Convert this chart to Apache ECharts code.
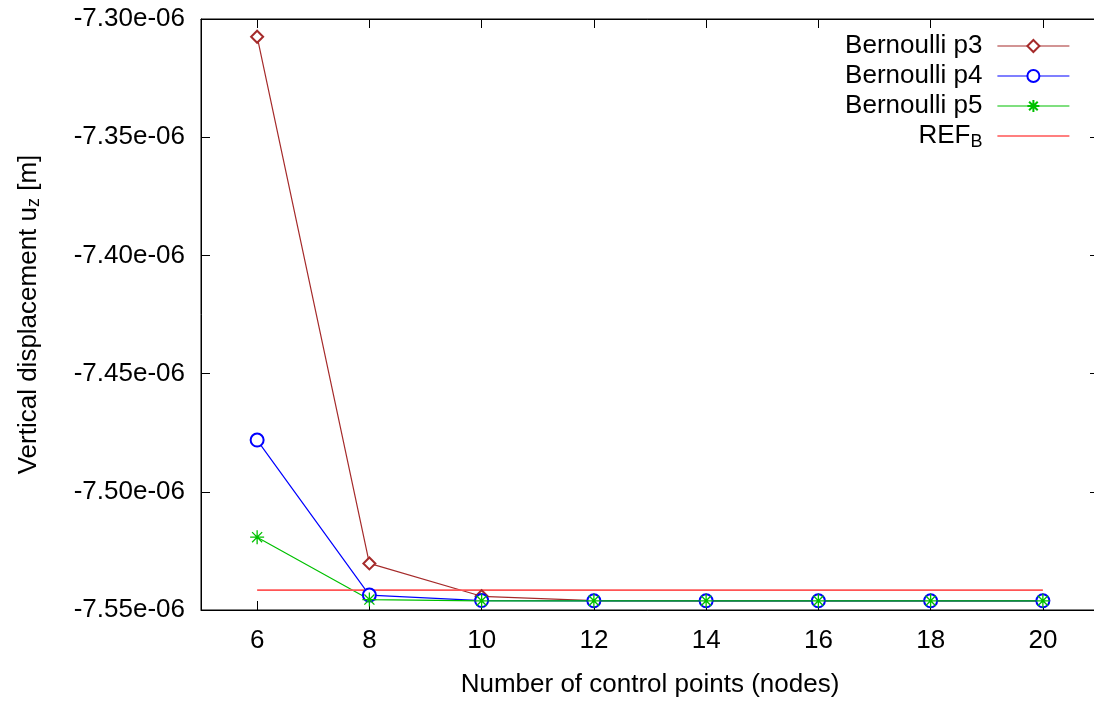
<!DOCTYPE html>
<html>
<head>
<meta charset="utf-8">
<script src="https://cdn.jsdelivr.net/npm/echarts@6/dist/echarts.min.js"></script>
<style>html,body{margin:0;padding:0;background:#fff}#c{width:1094px;height:702px}</style>
</head>
<body>
<div id="c"></div>
<script>
// Number of control points (nodes)
var nodes = [6, 8, 10, 12, 14, 16, 18, 20];
// Vertical displacement u_z [m]
var p3 = [-7.3075e-6, -7.5303e-6, -7.5442e-6, -7.5460e-6, -7.5461e-6, -7.5461e-6, -7.5461e-6, -7.5461e-6];
var p4 = [-7.4781e-6, -7.5437e-6, -7.5460e-6, -7.5461e-6, -7.5461e-6, -7.5461e-6, -7.5461e-6, -7.5461e-6];
var p5 = [-7.5192e-6, -7.5456e-6, -7.5461e-6, -7.5461e-6, -7.5461e-6, -7.5461e-6, -7.5461e-6, -7.5461e-6];
var refB = [-7.5416e-6, -7.5416e-6];
var refNodes = [6, 20];
var xTicks = [6, 8, 10, 12, 14, 16, 18, 20];
var seriesNames = ['Bernoulli p3', 'Bernoulli p4', 'Bernoulli p5', 'REF_B'];

var SCALE = 1e6; // plot in units of 1e-06 m
function pairs(xs, ys) {
  return xs.map(function (x, i) { return [x, +(ys[i] * SCALE).toFixed(6)]; });
}
var FONT = 'Liberation Sans';
var FS = 26;
var chart = echarts.init(document.getElementById('c'), null, {renderer: 'canvas'});
var asterisk = 'path://M0,-1L0,1M-1,0L1,0M-0.72,-0.72L0.72,0.72M-0.72,0.72L0.72,-0.72';
var tickStyle = {show: true, inside: true, length: 9, lineStyle: {color: '#000', width: 1}};
var REF_COLOR = '#ff5555';
chart.setOption({
  animation: false,
  backgroundColor: '#fff',
  grid: {left: 201, width: 898, top: 19, height: 591, show: true, borderColor: '#000', borderWidth: 1,
    containLabel: false, outerBoundsMode: 'none'},
  legend: {
    orient: 'vertical', align: 'right', right: 24, top: 31, padding: 0,
    itemWidth: 72, itemHeight: 15, itemGap: 0,
    lineStyle: {width: 1.2},
    textStyle: {fontFamily: FONT, fontSize: FS, color: '#000', lineHeight: 30, padding: [0, 10, 0, 0],
      rich: {sub: {fontFamily: FONT, fontSize: 18, verticalAlign: 'bottom', padding: [11, 0, 0, 0], color: '#000'}}},
    formatter: function (n) { return n === 'REF_B' ? 'REF{sub|B}' : n; },
    data: [seriesNames[0], seriesNames[1], seriesNames[2],
      {name: seriesNames[3], icon: 'path://M0,0L72,0L72,1.6L0,1.6Z', itemStyle: {color: REF_COLOR}}]
  },
  xAxis: [{
    type: 'value', min: 5, max: 21, position: 'bottom',
    name: 'Number of control points (nodes)', nameLocation: 'middle', nameGap: 62,
    nameTextStyle: {fontFamily: FONT, fontSize: FS, color: '#000'},
    axisLine: {show: true, lineStyle: {color: '#000', width: 1}},
    axisTick: Object.assign({customValues: xTicks}, tickStyle),
    axisLabel: {customValues: xTicks, fontFamily: FONT, fontSize: FS, color: '#000', margin: 18},
    splitLine: {show: false}
  }, {
    type: 'value', min: 5, max: 21, position: 'top',
    axisLine: {show: true, lineStyle: {color: '#000', width: 1}},
    axisTick: Object.assign({customValues: xTicks}, tickStyle),
    axisLabel: {show: false},
    splitLine: {show: false}
  }],
  yAxis: [{
    type: 'value', min: -7.55, max: -7.30, interval: 0.05, position: 'left',
    name: 'Vertical displacement u{sub|z} [m]', nameLocation: 'middle', nameGap: 158,
    nameTextStyle: {fontFamily: FONT, fontSize: FS, color: '#000',
      rich: {sub: {fontFamily: FONT, fontSize: 18, color: '#000', verticalAlign: 'bottom', padding: [11, 0, 0, 0]}}},
    axisLine: {show: true, lineStyle: {color: '#000', width: 1}},
    axisTick: tickStyle,
    axisLabel: {fontFamily: FONT, fontSize: FS, color: '#000', margin: 16,
      formatter: function (v) { return v.toFixed(2) + 'e-06'; }},
    splitLine: {show: false}
  }, {
    type: 'value', min: -7.55, max: -7.30, interval: 0.05, position: 'right',
    axisLine: {show: true, lineStyle: {color: '#000', width: 1}},
    axisTick: tickStyle,
    axisLabel: {show: false},
    splitLine: {show: false}
  }],
  series: [{
    name: 'Bernoulli p3', type: 'line', data: pairs(nodes, p3),
    symbol: 'emptyDiamond', symbolSize: 12,
    lineStyle: {color: '#a52a2a', width: 1.2}, itemStyle: {color: '#a52a2a', borderWidth: 1.2}
  }, {
    name: 'Bernoulli p4', type: 'line', data: pairs(nodes, p4),
    symbol: 'emptyCircle', symbolSize: 13,
    lineStyle: {color: '#0000ff', width: 1.2}, itemStyle: {color: '#0000ff', borderWidth: 1.2}
  }, {
    name: 'Bernoulli p5', type: 'line', data: pairs(nodes, p5),
    symbol: asterisk, symbolSize: 14,
    lineStyle: {color: '#00c000', width: 1.2}, itemStyle: {color: '#00c000', borderColor: '#00c000', borderWidth: 1.3}
  }, {
    name: 'REF_B', type: 'line', data: pairs(refNodes, refB),
    symbol: 'none',
    lineStyle: {color: REF_COLOR, width: 1.6}, itemStyle: {color: REF_COLOR}
  }]
});
</script>
</body>
</html>
